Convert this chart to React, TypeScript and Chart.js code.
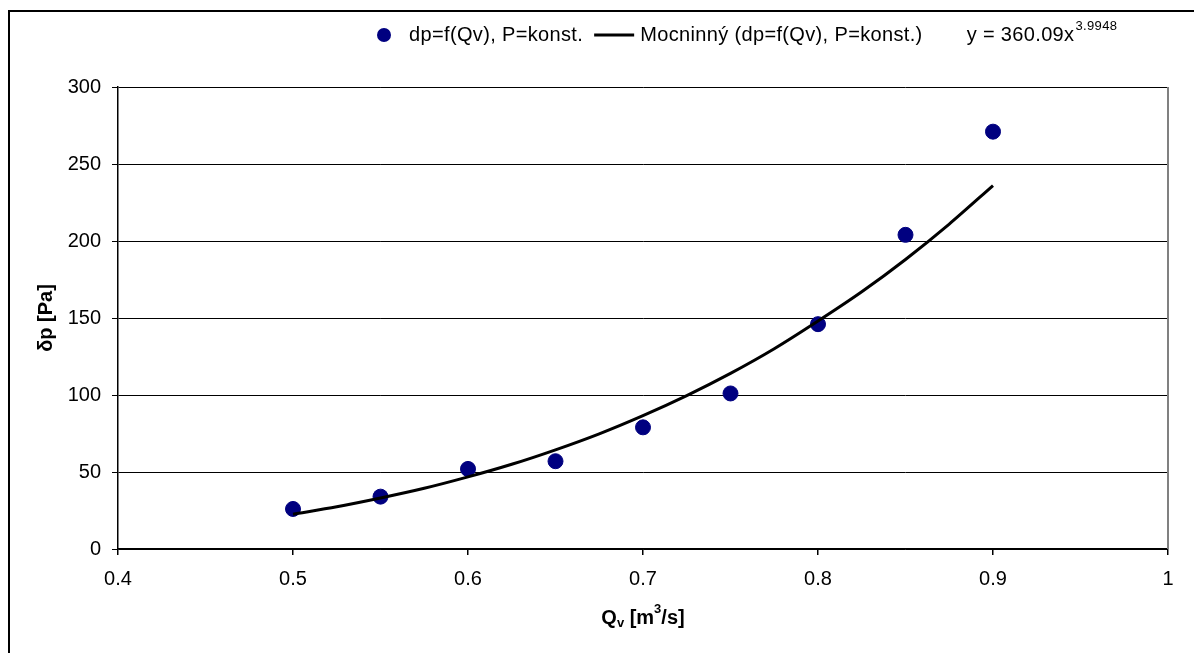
import React, { useEffect, useRef } from "react";
import { Chart, registerables } from "chart.js";

Chart.register(...registerables);

// Measured data points
const qv = [0.5, 0.55, 0.6, 0.65, 0.7, 0.75, 0.8, 0.85, 0.9];
const dp = [26, 34, 52, 57, 79, 101, 146, 204, 271];

// Trend line values
const fitQv = [0.5, 0.525, 0.55, 0.575, 0.6, 0.625, 0.65, 0.675, 0.7, 0.725, 0.75, 0.775, 0.8, 0.825, 0.85, 0.875, 0.9];
const fitDp = [22.6, 27.4, 33.1, 39.4, 46.8, 55.0, 64.4, 74.8, 86.6, 99.6, 114, 130, 148, 167, 188, 211, 236];

const seriesLabel = "dp=f(Qv), P=konst.";
const fitLabel = "Mocninný (dp=f(Qv), P=konst.)";
const eqMain = "y = 360.09x";
const eqExp = "3.9948";
const yTitle = "δp [Pa]";
const xTitleParts = ["Q", "v", " [m", "3", "/s]"];

const FONT = "'Liberation Sans', Arial, sans-serif";
const FS = 20;

const overlayPlugin = {
  id: "overlay",
  beforeDatasetsDraw(chart: any) {
    const { ctx, chartArea } = chart;
    ctx.save();
    ctx.strokeStyle = "#808080";
    ctx.lineWidth = 2;
    ctx.beginPath();
    ctx.moveTo(chartArea.right, chartArea.top);
    ctx.lineTo(chartArea.right, chartArea.bottom);
    ctx.stroke();
    ctx.restore();
  },
  afterDraw(chart: any) {
    const { ctx, chartArea } = chart;
    ctx.save();
    // Legend
    const ly = 35;
    ctx.textBaseline = "middle";
    ctx.textAlign = "left";
    ctx.font = `${FS}px ${FONT}`;
    (ctx as any).letterSpacing = "0.35px";
    ctx.fillStyle = "#000080";
    ctx.beginPath();
    ctx.arc(384, ly, 7, 0, Math.PI * 2);
    ctx.fill();
    ctx.fillStyle = "#000";
    let x = 409;
    ctx.fillText(seriesLabel, x, ly);
    x += ctx.measureText(seriesLabel).width + 11;
    ctx.strokeStyle = "#000";
    ctx.lineWidth = 3;
    ctx.beginPath();
    ctx.moveTo(x, ly);
    ctx.lineTo(x + 40, ly);
    ctx.stroke();
    x += 46;
    ctx.fillText(fitLabel, x, ly);
    x += ctx.measureText(fitLabel).width + 44;
    ctx.fillText(eqMain, x, ly);
    x += ctx.measureText(eqMain).width;
    ctx.font = `${13}px ${FONT}`;
    ctx.fillText(eqExp, x + 1, ly - 9);
    (ctx as any).letterSpacing = "0px";

    // Y title
    ctx.font = `bold ${FS}px ${FONT}`;
    ctx.textAlign = "center";
    ctx.save();
    ctx.translate(46, (chartArea.top + chartArea.bottom) / 2);
    ctx.rotate(-Math.PI / 2);
    ctx.fillText(yTitle, 0, 0);
    ctx.restore();

    // X title with sub/superscript
    const big = `bold ${FS}px ${FONT}`;
    const small = `bold ${13}px ${FONT}`;
    const fonts = [big, small, big, small, big];
    const offs = [0, 5, 0, -9, 0];
    let total = 0;
    const widths = xTitleParts.map((p, i) => {
      ctx.font = fonts[i];
      const w = ctx.measureText(p).width;
      total += w;
      return w;
    });
    ctx.textAlign = "left";
    let tx = (chartArea.left + chartArea.right) / 2 - total / 2;
    const ty = 618;
    xTitleParts.forEach((p, i) => {
      ctx.font = fonts[i];
      ctx.fillText(p, tx, ty + offs[i]);
      tx += widths[i];
    });
    ctx.restore();
  },
};

export default function App() {
  const ref = useRef<HTMLCanvasElement | null>(null);
  useEffect(() => {
    if (!ref.current) return;
    const chart = new Chart(ref.current, {
      type: "scatter",
      data: {
        datasets: [
          {
            label: seriesLabel,
            data: qv.map((q, i) => ({ x: q, y: dp[i] })),
            backgroundColor: "#000080",
            borderColor: "#000080",
            pointRadius: 7.5,
            pointHoverRadius: 7.5,
            showLine: false,
            order: 2,
          },
          {
            label: fitLabel,
            data: fitQv.map((q, i) => ({ x: q, y: fitDp[i] })),
            showLine: true,
            borderColor: "#000",
            borderWidth: 3,
            pointRadius: 0,
            tension: 0.3,
            fill: false,
            order: 1,
          },
        ],
      },
      options: {
        responsive: false,
        animation: false,
        layout: { padding: { left: 0, right: 26, top: 87, bottom: 0 } },
        plugins: {
          legend: { display: false },
          tooltip: { enabled: false },
        },
        scales: {
          x: {
            type: "linear",
            min: 0.4,
            max: 1,
            ticks: {
              stepSize: 0.1,
              color: "#000",
              font: { family: FONT, size: FS },
              padding: 12,
              callback: (v: any) => String(Math.round(Number(v) * 10) / 10),
            },
            grid: {
              drawOnChartArea: false,
              drawTicks: true,
              tickLength: 6,
              tickColor: "#000",
              lineWidth: 1.5,
            },
            border: { color: "#000", width: 1.5 },
            afterFit: (s: any) => {
              s.height = 104;
            },
          },
          y: {
            min: 0,
            max: 300,
            ticks: {
              stepSize: 50,
              color: "#000",
              font: { family: FONT, size: FS },
              padding: 11,
            },
            grid: {
              color: "#000",
              lineWidth: 1,
              drawTicks: true,
              tickLength: 6,
              tickColor: "#000",
            },
            border: { color: "#000", width: 1.5 },
            afterFit: (s: any) => {
              s.width = 118;
            },
          },
        },
      },
      plugins: [overlayPlugin],
    });
    return () => chart.destroy();
  }, []);

  return (
    <div
      style={{
        position: "fixed",
        left: 0,
        top: 0,
        width: 1194,
        height: 653,
        overflow: "hidden",
        background: "#fff",
      }}
    >
      <div
        style={{
          position: "absolute",
          left: 8,
          top: 10,
          width: 1300,
          height: 800,
          borderLeft: "2px solid #000",
          borderTop: "2px solid #000",
        }}
      />
      <canvas
        ref={ref}
        width={1194}
        height={653}
        style={{ position: "absolute", left: 0, top: 0 }}
      />
    </div>
  );
}
